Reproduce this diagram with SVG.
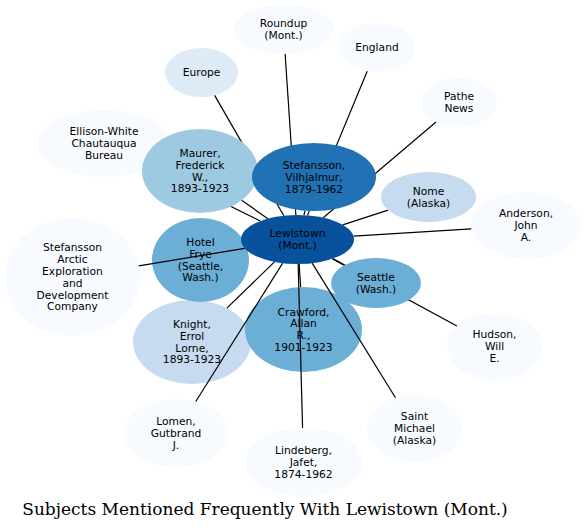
<svg xmlns="http://www.w3.org/2000/svg" width="586" height="531" viewBox="0 0 586 531">
<style>
.n text{font-family:"DejaVu Sans","Liberation Sans",sans-serif;font-size:10.7px;fill:#000;text-anchor:middle}
.c0{fill:#f7fbff}.c1{fill:#deebf7}.c2{fill:#c6dbef}.c3{fill:#9ecae1}.c4{fill:#6baed6}.c6{fill:#2171b5}.c7{fill:#08519c}
#connectors line{stroke:#000;stroke-width:1.2;fill:none}
.title{font-family:"DejaVu Serif","Liberation Serif",serif;font-size:17px;fill:#000;text-anchor:middle}
</style>
<rect width="586" height="531" fill="#fff"/>
<g id="n-ellison" class="n"><ellipse class="c0" cx="104" cy="143.5" rx="66" ry="33.5"/><text x="104" y="135.4"><tspan x="104">Ellison-White</tspan><tspan x="104" dy="11.8">Chautauqua</tspan><tspan x="104" dy="11.8">Bureau</tspan></text></g>
<g id="n-arctic" class="n"><ellipse class="c0" cx="72.5" cy="277" rx="67.5" ry="59"/><text x="72.5" y="250.9"><tspan x="72.5">Stefansson</tspan><tspan x="72.5" dy="11.9">Arctic</tspan><tspan x="72.5" dy="11.9">Exploration</tspan><tspan x="72.5" dy="11.9">and</tspan><tspan x="72.5" dy="11.9">Development</tspan><tspan x="72.5" dy="11.9">Company</tspan></text></g>
<g id="n-roundup" class="n"><ellipse class="c0" cx="283.5" cy="29.5" rx="50" ry="24.5"/><text x="283.5" y="27.2"><tspan x="283.5">Roundup</tspan><tspan x="283.5" dy="11.8">(Mont.)</tspan></text></g>
<g id="n-england" class="n"><ellipse class="c0" cx="377" cy="47.5" rx="38" ry="24.5"/><text x="377" y="51.1">England</text></g>
<g id="n-europe" class="n"><ellipse class="c1" cx="201.5" cy="72.5" rx="36.5" ry="24.5"/><text x="201.5" y="76.1">Europe</text></g>
<g id="n-pathe" class="n"><ellipse class="c0" cx="459" cy="102.5" rx="38" ry="24.5"/><text x="459" y="100.2"><tspan x="459">Pathe</tspan><tspan x="459" dy="11.8">News</tspan></text></g>
<g id="n-anderson" class="n"><ellipse class="c0" cx="526" cy="225.5" rx="55" ry="33.5"/><text x="526" y="217.4"><tspan x="526">Anderson,</tspan><tspan x="526" dy="11.8">John</tspan><tspan x="526" dy="11.8">A.</tspan></text></g>
<g id="n-hudson" class="n"><ellipse class="c0" cx="494.5" cy="346.5" rx="47.5" ry="33.5"/><text x="494.5" y="338.4"><tspan x="494.5">Hudson,</tspan><tspan x="494.5" dy="11.8">Will</tspan><tspan x="494.5" dy="11.8">E.</tspan></text></g>
<g id="n-lomen" class="n"><ellipse class="c0" cx="176" cy="433" rx="52" ry="34"/><text x="176" y="424.9"><tspan x="176">Lomen,</tspan><tspan x="176" dy="11.8">Gutbrand</tspan><tspan x="176" dy="11.8">J.</tspan></text></g>
<g id="n-stmichael" class="n"><ellipse class="c0" cx="414.5" cy="428.5" rx="47.5" ry="33.5"/><text x="414.5" y="420.4"><tspan x="414.5">Saint</tspan><tspan x="414.5" dy="11.8">Michael</tspan><tspan x="414.5" dy="11.8">(Alaska)</tspan></text></g>
<g id="n-lindeberg" class="n"><ellipse class="c0" cx="303.5" cy="462" rx="58.5" ry="34"/><text x="303.5" y="453.9"><tspan x="303.5">Lindeberg,</tspan><tspan x="303.5" dy="11.8">Jafet,</tspan><tspan x="303.5" dy="11.8">1874-1962</tspan></text></g>
<g id="n-knight" class="n"><ellipse class="c2" cx="192" cy="342" rx="59" ry="42"/><text x="192" y="328"><tspan x="192">Knight,</tspan><tspan x="192" dy="11.8">Errol</tspan><tspan x="192" dy="11.8">Lorne,</tspan><tspan x="192" dy="11.8">1893-1923</tspan></text></g>
<g id="n-crawford" class="n"><ellipse class="c4" cx="303.5" cy="329.5" rx="58.5" ry="42.5"/><text x="303.5" y="315.5"><tspan x="303.5">Crawford,</tspan><tspan x="303.5" dy="11.8">Allan</tspan><tspan x="303.5" dy="11.8">R.,</tspan><tspan x="303.5" dy="11.8">1901-1923</tspan></text></g>
<g id="n-frye" class="n"><ellipse class="c4" cx="200.5" cy="260" rx="48.5" ry="42"/><text x="200.5" y="246"><tspan x="200.5">Hotel</tspan><tspan x="200.5" dy="11.8">Frye</tspan><tspan x="200.5" dy="11.8">(Seattle,</tspan><tspan x="200.5" dy="11.8">Wash.)</tspan></text></g>
<g id="connectors">
<line x1="295.87" y1="215.01" x2="285.13" y2="53.99"/>
<line x1="307.49" y1="215.39" x2="367.2" y2="71.17"/>
<line x1="283.84" y1="215.73" x2="214.64" y2="95.36"/>
<line x1="323.21" y1="217.69" x2="436.0" y2="122.01"/>
<line x1="260.31" y1="221.05" x2="151.2" y2="166.91"/>
<line x1="267.83" y1="218.65" x2="241.63" y2="200.25"/>
<line x1="303.93" y1="215.16" x2="305.12" y2="210.65"/>
<line x1="342.73" y1="224.82" x2="388.06" y2="210.12"/>
<line x1="353.45" y1="236.07" x2="471.28" y2="228.85"/>
<line x1="246.71" y1="250.23" x2="247.61" y2="250.04"/>
<line x1="244.76" y1="248.29" x2="138.79" y2="265.95"/>
<line x1="332.31" y1="258.79" x2="344.14" y2="265.34"/>
<line x1="332.75" y1="258.64" x2="456.87" y2="326.06"/>
<line x1="274.47" y1="261.87" x2="226.88" y2="308.11"/>
<line x1="299.13" y1="263.99" x2="300.67" y2="287.05"/>
<line x1="282.65" y1="263.14" x2="195.75" y2="401.55"/>
<line x1="312.15" y1="263.16" x2="395.5" y2="397.8"/>
<line x1="298.16" y1="264.0" x2="302.58" y2="428.0"/>
</g>
<g id="n-maurer" class="n"><ellipse class="c3" cx="200" cy="171" rx="58" ry="42"/><text x="200" y="157"><tspan x="200">Maurer,</tspan><tspan x="200" dy="11.8">Frederick</tspan><tspan x="200" dy="11.8">W.,</tspan><tspan x="200" dy="11.8">1893-1923</tspan></text></g>
<g id="n-stefansson" class="n"><ellipse class="c6" cx="314" cy="177" rx="62" ry="34"/><text x="314" y="168.9"><tspan x="314">Stefansson,</tspan><tspan x="314" dy="11.8">Vilhjalmur,</tspan><tspan x="314" dy="11.8">1879-1962</tspan></text></g>
<g id="n-lewistown" class="n"><ellipse class="c7" cx="297.5" cy="239.5" rx="56.5" ry="24.5"/><text x="297.5" y="237.2"><tspan x="297.5">Lewistown</tspan><tspan x="297.5" dy="11.8">(Mont.)</tspan></text></g>
<g id="n-nome" class="n"><ellipse class="c2" cx="428.5" cy="197" rx="47.5" ry="25"/><text x="428.5" y="194.7"><tspan x="428.5">Nome</tspan><tspan x="428.5" dy="11.8">(Alaska)</tspan></text></g>
<g id="n-seattle" class="n"><ellipse class="c4" cx="376" cy="283" rx="45" ry="25"/><text x="376" y="280.7"><tspan x="376">Seattle</tspan><tspan x="376" dy="11.8">(Wash.)</tspan></text></g>
<text class="title" x="265" y="515">Subjects Mentioned Frequently With Lewistown (Mont.)</text>
</svg>
